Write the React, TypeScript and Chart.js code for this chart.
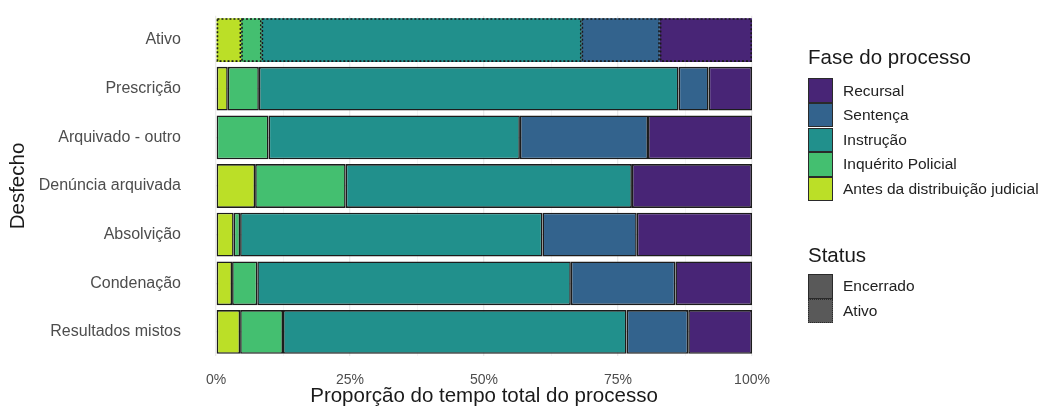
import React, { useEffect, useRef } from 'react';
import { Chart, registerables } from 'chart.js';

Chart.register(...registerables);

const categories = ['Ativo', 'Prescrição', 'Arquivado - outro', 'Denúncia arquivada', 'Absolvição', 'Condenação', 'Resultados mistos'];
const phases = ['Antes da distribuição judicial', 'Inquérito Policial', 'Instrução', 'Sentença', 'Recursal'];
const antes = [4.7, 2.2, 0, 7.3, 3.3, 3.0, 4.5];
const inquerito = [3.8, 5.8, 9.8, 16.9, 1.2, 4.7, 8.0];
const instrucao = [59.7, 78.3, 46.9, 53.4, 56.4, 58.5, 64.1];
const sentenca = [14.6, 5.6, 23.9, 0, 17.6, 19.5, 11.5];
const recursal = [17.2, 8.1, 19.4, 22.4, 21.5, 14.3, 11.9];
const phaseColors = ['#BBDF27', '#44BF70', '#21908C', '#33638D', '#482576'];
const statusLabels = ['Encerrado', 'Ativo'];
const activeCategory = 'Ativo';

const FONT = '"Liberation Sans", Arial, Helvetica, sans-serif';
const TITLE_SIZE = 20.5;

const dottedPlugin = {
  id: 'dottedActive',
  afterDatasetsDraw(chart: any) {
    const ctx = chart.ctx;
    const idx = chart.data.labels.indexOf(activeCategory);
    if (idx < 0) return;
    ctx.save();
    ctx.setLineDash([2, 2]);
    ctx.strokeStyle = '#1a1a1a';
    ctx.lineWidth = 1.6;
    chart.data.datasets.forEach((_ds: any, i: number) => {
      const el = chart.getDatasetMeta(i).data[idx];
      if (!el) return;
      const { x, y, base, height } = el.getProps(['x', 'y', 'base', 'height'], true);
      if (Math.abs(x - base) < 0.5) return;
      ctx.strokeRect(Math.min(x, base) + 0.8, y - height / 2 + 0.8, Math.abs(x - base) - 1.6, height - 1.6);
    });
    ctx.restore();
  },
};

export default function App() {
  const ref = useRef<HTMLCanvasElement>(null);

  useEffect(() => {
    const series = [antes, inquerito, instrucao, sentenca, recursal];
    const chart = new Chart(ref.current!, {
      type: 'bar',
      data: {
        labels: categories,
        datasets: series.map((d, i) => ({
          label: phases[i],
          data: d,
          backgroundColor: phaseColors[i],
          borderColor: '#1c1c1c',
          borderWidth: (c: any) => (categories[c.dataIndex] === activeCategory ? 0 : 1.6),
          borderSkipped: false,
          barPercentage: 0.9,
          categoryPercentage: 1,
        })),
      },
      options: {
        indexAxis: 'y',
        animation: false,
        responsive: false,
        maintainAspectRatio: false,
        layout: { padding: { top: 15.7, right: 294, left: 0, bottom: 5 } },
        plugins: { legend: { display: false }, tooltip: { enabled: false } },
        scales: {
          x: {
            stacked: true,
            min: 0,
            max: 100,
            border: { display: false },
            grid: {
              drawTicks: false,
              color: (c: any) => (c.tick && c.tick.value % 25 === 0 ? '#EBEBEB' : '#F3F3F3'),
              lineWidth: (c: any) => (c.tick && c.tick.value % 25 === 0 ? 1.3 : 0.8),
            },
            ticks: {
              stepSize: 12.5,
              autoSkip: false,
              padding: 15,
              color: '#4D4D4D',
              font: { family: FONT, size: 14 },
              callback: (v: any) => (Number(v) % 25 === 0 ? v + '%' : ''),
            },
            title: {
              display: true,
              text: 'Proporção do tempo total do processo',
              color: '#1a1a1a',
              font: { family: FONT, size: TITLE_SIZE },
              padding: { top: 0, bottom: 0 },
            },
            afterFit: (s: any) => { s.height = 414 - 5 - 356.3; },
          },
          y: {
            stacked: true,
            offset: true,
            border: { display: false },
            grid: { offset: false, drawTicks: false, color: '#EBEBEB', lineWidth: 1.3 },
            ticks: {
              padding: 35,
              color: '#4D4D4D',
              font: { family: FONT, size: 16 },
            },
            title: {
              display: true,
              text: 'Desfecho',
              color: '#1a1a1a',
              font: { family: FONT, size: TITLE_SIZE },
              padding: { top: 5.7, bottom: 0 },
            },
            afterFit: (s: any) => {
              s.width = 216;
              s.paddingTop = 0;
              s.paddingBottom = 0;
            },
          },
        },
      },
      plugins: [dottedPlugin],
    } as any);
    return () => chart.destroy();
  }, []);

  const legendOrder = [4, 3, 2, 1, 0];
  const keyH = 24.6;
  const textStyle: React.CSSProperties = {
    position: 'absolute',
    left: 843,
    fontFamily: FONT,
    fontSize: 15.5,
    color: '#222',
    lineHeight: '18px',
    whiteSpace: 'nowrap',
  };
  const titleStyle: React.CSSProperties = {
    position: 'absolute',
    left: 808,
    fontFamily: FONT,
    fontSize: TITLE_SIZE,
    lineHeight: '24px',
    color: '#1a1a1a',
    whiteSpace: 'nowrap',
  };

  return (
    <div style={{ position: 'absolute', left: 0, top: 0, width: 1046, height: 414, background: '#fff' }}>
      <canvas ref={ref} width={1046} height={414} style={{ position: 'absolute', left: 0, top: 0 }} />
      <div style={{ ...titleStyle, top: 57 - 12 }}>Fase do processo</div>
      {legendOrder.map((pi, k) => (
        <React.Fragment key={pi}>
          <div
            style={{
              position: 'absolute',
              left: 808,
              top: 78.3 + k * keyH,
              width: 25,
              height: keyH,
              boxSizing: 'border-box',
              background: phaseColors[pi],
              border: '1.6px solid #2a2a2a',
            }}
          />
          <div style={{ ...textStyle, top: 78.3 + k * keyH + keyH / 2 - 9 }}>{phases[pi]}</div>
        </React.Fragment>
      ))}
      <div style={{ ...titleStyle, top: 255 - 12 }}>Status</div>
      {statusLabels.map((s, k) => (
        <React.Fragment key={s}>
          <div
            style={{
              position: 'absolute',
              left: 808,
              top: 274 + k * 24.5,
              width: 25,
              height: 24.5,
              boxSizing: 'border-box',
              background: '#595959',
              border: k === 0 ? '1.6px solid #2a2a2a' : '1.6px dotted #2a2a2a',
            }}
          />
          <div style={{ ...textStyle, top: 274 + k * 24.5 + 12.25 - 9 }}>{s}</div>
        </React.Fragment>
      ))}
    </div>
  );
}
